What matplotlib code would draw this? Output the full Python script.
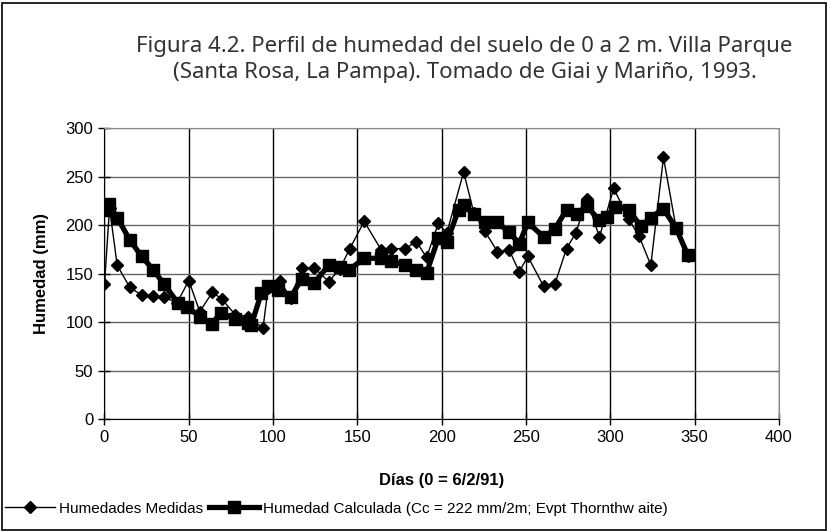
import matplotlib
matplotlib.use("Agg")
import matplotlib.pyplot as plt
from matplotlib.patches import Rectangle

# Data
med_x = [0, 3, 7.5, 15, 22, 28.5, 35.5, 43, 50, 56.5,
         64, 69.5, 77.5, 85, 94, 97, 104, 110.5, 117, 124.5,
         133, 139.5, 145.5, 154, 164, 170, 178, 185, 191, 198,
         203, 213, 219, 225.5, 233, 240, 246, 251, 260.5, 267,
         274, 279.5, 286, 293.5, 302, 311, 317, 324, 331.5, 339,
         346]
med_y = [139, 218, 159, 136, 128, 127, 126, 120, 143, 111,
         131, 124, 108, 106, 94, 135, 143, 125, 156, 156,
         142, 155, 176, 204, 175, 176, 176, 183, 167, 202,
         192, 255, 213, 194, 173, 174.5, 152, 168, 137, 139,
         176, 192, 227, 188, 238, 206, 189, 159, 270, 197,
         168]

cal_x = [0, 2.5, 7.5, 15, 22, 29, 35.5, 43.5, 49, 56.5,
         63.5, 69, 77.5, 85, 87, 93, 97, 103, 110.5, 117,
         124.5, 133, 139.5, 145, 154, 164, 170, 178.5, 185, 191,
         198, 203, 210, 213, 219, 225.5, 233, 240, 246, 251,
         260.5, 267, 274, 280, 286, 293.5, 298, 302.5, 311, 318,
         324, 331.5, 339, 346]
cal_y = [216, 222, 208, 185, 168, 154, 139, 120, 116, 106,
         98, 110, 103, 99, 97, 130, 137, 133, 126, 145,
         141, 159, 157, 154, 166, 166, 163, 159, 154, 151,
         187, 183, 216, 221, 212, 203, 203, 193, 181, 203,
         188, 196, 216, 212, 220, 205, 209, 219, 216, 199,
         208, 217, 197, 169]

x_ticks = [0, 50, 100, 150, 200, 250, 300, 350, 400]
y_ticks = [0, 50, 100, 150, 200, 250, 300]

title = "Figura 4.2. Perfil de humedad del suelo de 0 a 2 m. Villa Parque\n(Santa Rosa, La Pampa). Tomado de Giai y Mariño, 1993."
label_med = "Humedades Medidas"
label_cal = "Humedad Calculada (Cc = 222 mm/2m; Evpt Thornthw aite)"

plt.rcParams['font.family'] = ['Liberation Sans', 'DejaVu Sans']

fig = plt.figure(figsize=(8.28, 5.32), dpi=100)
fig.patch.set_facecolor('white')
fig.add_artist(Rectangle((0.0025, 0.003), 0.995, 0.992, transform=fig.transFigure,
                         fill=False, edgecolor='black', linewidth=1.2))

ax = fig.add_axes([0.1262, 0.2118, 0.8146, 0.547])
ax.plot(med_x, med_y, color='black', linewidth=1.0, marker='D', markersize=6.5,
        label=label_med, zorder=3)
ax.plot(cal_x, cal_y, color='black', linewidth=3.8, marker='s', markersize=9,
        label=label_cal, zorder=2)

ax.set_xlim(0, 400)
ax.set_ylim(0, 300)
ax.set_xticks(x_ticks)
ax.set_yticks(y_ticks)
ax.grid(True, axis='x', color='black', linewidth=1.0)
ax.grid(True, axis='y', color='#666666', linewidth=1.0)
ax.set_axisbelow(True)
for s in ['top', 'right']:
    ax.spines[s].set_color('#888888')
for s in ['left', 'bottom']:
    ax.spines[s].set_color('black')
ax.tick_params(direction='inout', length=8, width=1, labelsize=12, pad=4)

ax.set_xlabel("Días (0 = 6/2/91)", fontsize=12, fontweight='bold', labelpad=20)
ax.set_ylabel("Humedad (mm)", fontsize=12, fontweight='bold', labelpad=12)

fig.text(0.561, 0.888, title, ha='center', va='center', fontsize=16,
         family=['Noto Sans', 'DejaVu Sans'], color='#333333', linespacing=1.33)

leg = fig.legend(loc='lower left', bbox_to_anchor=(0.0, 0.022), ncol=2, frameon=False,
                 fontsize=11, handlelength=3.3, handletextpad=0.25, columnspacing=0.4,
                 borderaxespad=0.0, borderpad=0.3)

fig.savefig("out.png", dpi=100, facecolor='white')
